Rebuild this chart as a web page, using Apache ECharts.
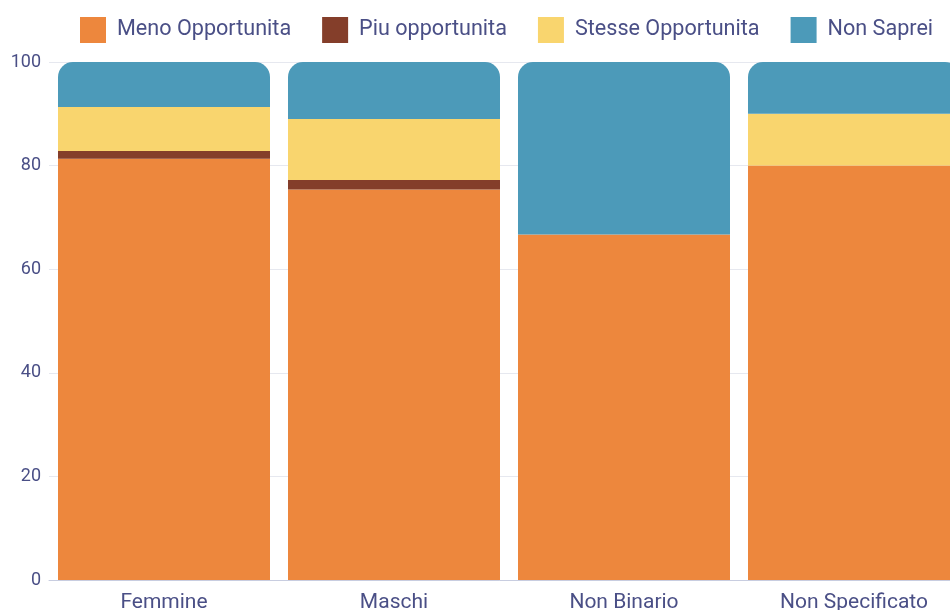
<!DOCTYPE html>
<html>
<head>
<meta charset="utf-8">
<script src="https://cdn.jsdelivr.net/npm/echarts@6/dist/echarts.min.js"></script>
<style>
  html, body { margin: 0; padding: 0; background: #fff; }
  #chart { width: 950px; height: 610px; }
</style>
</head>
<body>
<div id="chart"></div>
<script>
const categories = ['Femmine', 'Maschi', 'Non Binario', 'Non Specificato']
const menoOpportunita = [81.3, 75.4, 66.7, 80]
const piuOpportunita = [1.5, 1.8, 0, 0]
const stesseOpportunita = [8.5, 11.8, 0, 10]
const nonSaprei = [8.7, 11.0, 33.3, 10]
const yTicks = [0, 20, 40, 60, 80, 100]

const textColor = '#4a4f86'
const font = 'Roboto'

const myChart = echarts.init(document.getElementById('chart'))

function bar(name, data, color, top){
    return {
        name: name,
        type: 'bar',
        stack: 'total',
        barWidth: 212,
        data: data,
        itemStyle: {
            color: color,
            borderRadius: top ? [15, 15, 0, 0] : 0
        }
    }
}

myChart.setOption({
    animation: false,
    textStyle: { fontFamily: font },
    legend: {
        top: 12,
        left: 75,
        itemWidth: 26,
        itemHeight: 26,
        itemGap: 31,
        icon: 'rect',
        textStyle: { color: textColor, fontSize: 21.6, fontFamily: font, padding: [0, 0, 0, 6] }
    },
    grid: {
        left: 49,
        right: -19,
        top: 62,
        bottom: 30,
        containLabel: false,
        outerBoundsMode: 'none'
    },
    xAxis: {
        type: 'category',
        data: categories,
        axisTick: { show: false },
        axisLine: { lineStyle: { color: '#c8cde0' } },
        axisLabel: { color: textColor, fontSize: 21, margin: 12, fontFamily: font }
    },
    yAxis: {
        type: 'value',
        min: yTicks[0],
        max: yTicks[yTicks.length - 1],
        interval: 20,
        axisLabel: { color: textColor, fontSize: 18, margin: 8, fontFamily: font },
        splitLine: { lineStyle: { color: '#e6e8ef' } }
    },
    series: [
        bar('Meno Opportunita', menoOpportunita, '#ed873d'),
        bar('Piu opportunita', piuOpportunita, '#843e2a'),
        bar('Stesse Opportunita', stesseOpportunita, '#f9d56e'),
        bar('Non Saprei', nonSaprei, '#4c9ab9', true)
    ]
})
</script>
</body>
</html>
